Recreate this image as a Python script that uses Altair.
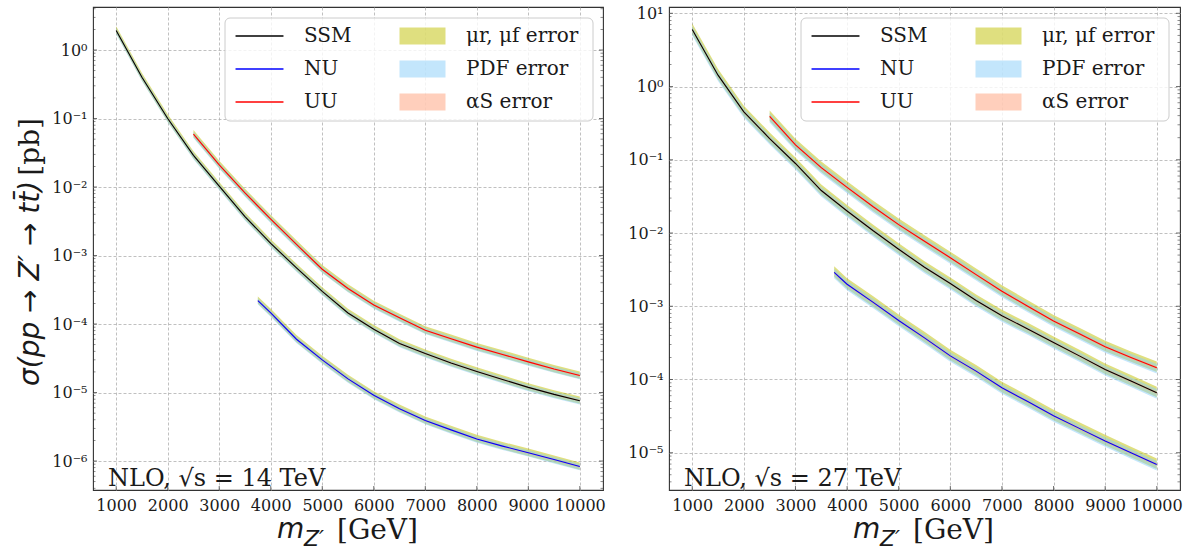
import altair as alt
import pandas as pd

# ---------------- data ----------------
mass_ssm = [1000, 1500, 2000, 2500, 3000, 3500, 4000, 4500, 5000, 5500,
            6000, 6500, 7000, 7500, 8000, 8500, 9000, 9500, 10000]
mass_uu = [2500, 3000, 3500, 4000, 4500, 5000, 5500, 6000, 6500, 7000,
           7500, 8000, 8500, 9000, 9500, 10000]
mass_nu = [3750, 4000, 4500, 5000, 5500, 6000, 6500, 7000, 7500, 8000,
           8500, 9000, 9500, 10000]

ssm_14 = [1.93, 0.40, 0.100, 0.029, 0.0103, 0.0037, 0.0015, 6.6e-4, 3.0e-4, 1.45e-4,
          8.4e-5, 5.2e-5, 3.7e-5, 2.7e-5, 2.03e-5, 1.55e-5, 1.19e-5, 9.4e-6, 7.6e-6]
uu_14 = [0.059, 0.021, 0.0082, 0.0034, 1.45e-3, 6.3e-4, 3.3e-4, 1.9e-4, 1.23e-4, 8.1e-5,
         6.1e-5, 4.6e-5, 3.6e-5, 2.8e-5, 2.2e-5, 1.77e-5]
nu_14 = [2.2e-4, 1.45e-4, 6.0e-5, 3.0e-5, 1.58e-5, 9.1e-6, 5.8e-6, 3.9e-6, 2.85e-6, 2.1e-6,
         1.65e-6, 1.32e-6, 1.05e-6, 8.3e-7]

ssm_27 = [6.0, 1.43, 0.45, 0.195, 0.089, 0.038, 0.020, 0.0108, 6.0e-3, 3.4e-3,
          2.04e-3, 1.2e-3, 7.4e-4, 4.9e-4, 3.2e-4, 2.1e-4, 1.37e-4, 9.5e-5, 6.6e-5]
uu_27 = [0.39, 0.16, 0.078, 0.042, 0.023, 0.013, 7.7e-3, 4.6e-3, 2.7e-3, 1.6e-3,
         1.0e-3, 6.3e-4, 4.2e-4, 2.8e-4, 2.0e-4, 1.45e-4]
nu_27 = [2.9e-3, 2.0e-3, 1.14e-3, 6.4e-4, 3.7e-4, 2.1e-4, 1.3e-4, 7.7e-5, 5.0e-5, 3.2e-5,
         2.15e-5, 1.45e-5, 1.0e-5, 6.9e-6]

# relative uncertainties (up, down) per error source, per collider energy
err_names = ["μr, μf error", "PDF error", "αS error"]
err_up_14 = [0.15, 0.09, 0.03]
err_dn_14 = [0.10, 0.12, 0.03]
err_up_27 = [0.21, 0.12, 0.04]
err_dn_27 = [0.13, 0.17, 0.04]

series_names = ["SSM", "NU", "UU"]
series_colors = ["#000000", "#0000ff", "#ff0000"]
err_colors = ["#bfbf00", "#87cefa", "#ffa07a"]

x_ticks = [1000, 2000, 3000, 4000, 5000, 6000, 7000, 8000, 9000, 10000]
y_ticks_14 = [1e-6, 1e-5, 1e-4, 1e-3, 1e-2, 1e-1, 1e0]
y_ticks_27 = [1e-5, 1e-4, 1e-3, 1e-2, 1e-1, 1e0, 1e1]
y_dom_14 = [10 ** -6.423, 10 ** 0.628]
y_dom_27 = [10 ** -5.509, 10 ** 1.086]
x_dom = [550, 10450]
energies = ["14", "27"]

# ---------------- tables ----------------
def build(ssm, nu, uu, up, dn):
    lines, bands = [], []
    for name, ms, vs in [("SSM", mass_ssm, ssm), ("NU", mass_nu, nu), ("UU", mass_uu, uu)]:
        for m, v in zip(ms, vs):
            lines.append({"series": name, "mass": m, "xs": v})
            for k, e in enumerate(err_names):
                bands.append({"series": name, "err": e, "k": k, "mass": m,
                              "lo": v * (1 - dn[k]), "hi": v * (1 + up[k])})
    return pd.DataFrame(lines), pd.DataFrame(bands)

lines14, bands14 = build(ssm_14, nu_14, uu_14, err_up_14, err_dn_14)
lines27, bands27 = build(ssm_27, nu_27, uu_27, err_up_27, err_dn_27)

def minor_ticks(dom):
    out = []
    for d in range(-8, 3):
        for f in range(2, 10):
            v = f * 10.0 ** d
            if dom[0] <= v <= dom[1]:
                out.append(v)
    return out

SERIF = "DejaVu Serif"
SANS = "DejaVu Sans"
TXT = "#1a1a1a"

sup_expr = ("'10' + (round(log(datum.value)/LN10) < 0 ? '\u207b' : '') + "
            "['\u2070','\u00b9','\u00b2','\u00b3','\u2074','\u2075','\u2076','\u2077','\u2078','\u2079']"
            "[abs(round(log(datum.value)/LN10))]")


def panel(lines, bands, y_ticks, y_dom, W, H, energy, first):
    xs = alt.Scale(domain=x_dom, nice=False, zero=False)
    ys = alt.Scale(type="log", domain=y_dom, nice=False)
    x_axis = alt.Axis(values=x_ticks, title=None, ticks=False, domain=False, grid=True,
                      labelPadding=7, format="d", labelFlush=False,
                      labelFont=SERIF, labelFontSize=16, labelColor=TXT,
                      gridDash=[3, 2], gridColor="#b0b0b0", gridWidth=0.8)
    y_axis = alt.Axis(values=y_ticks, title=None, ticks=False, domain=False, grid=True,
                      labelPadding=6, labelExpr=sup_expr, labelFlush=False,
                      labelFont=SERIF, labelFontSize=16, labelColor=TXT,
                      gridDash=[3, 2], gridColor="#b0b0b0", gridWidth=0.8)

    def X(f):
        return alt.X(f"{f}:Q", scale=xs, axis=x_axis)

    def Y(f):
        return alt.Y(f"{f}:Q", scale=ys, axis=y_axis, stack=None)

    fill = alt.Fill("err:N", scale=alt.Scale(domain=err_names, range=err_colors),
                    legend=alt.Legend(title=None, orient="none", legendX=319.5, legendY=19,
                                      symbolType="M-2.706,-1H2.706V1H-2.706Z", symbolSize=289,
                                      symbolOpacity=0.5, symbolStrokeWidth=0,
                                      labelFont=SERIF, labelFontSize=20, labelColor=TXT,
                                      labelOffset=33.5, rowPadding=13, padding=0))
    band_layers = [
        alt.Chart(bands[bands.k == k].reset_index(drop=True)).mark_area(opacity=0.5).encode(
            x=X("mass"), y=Y("lo"), y2=alt.Y2("hi:Q"), fill=fill, detail="series:N")
        for k in range(3)
    ]
    line_layer = alt.Chart(lines).mark_line(strokeWidth=1.1).encode(
        x=X("mass"), y=Y("xs"),
        stroke=alt.Stroke("series:N", scale=alt.Scale(domain=series_names, range=series_colors),
                          legend=alt.Legend(title=None, orient="none", legendX=156.5, legendY=19,
                                            symbolType="M-2.82,0H2.82", symbolSize=289,
                                            symbolStrokeWidth=1.5,
                                            labelFont=SERIF, labelFontSize=20, labelColor=TXT,
                                            labelOffset=34.5, rowPadding=13, padding=0)),
        order="mass:Q")

    ymaj = pd.DataFrame({"xs": y_ticks})
    ymin = pd.DataFrame({"xs": minor_ticks(y_dom)})
    xmaj = pd.DataFrame({"mass": x_ticks})
    tick_col = "#333333"
    ticks = [
        alt.Chart(ymaj).mark_tick(size=4, thickness=1, color=tick_col).encode(y=Y("xs"), x=alt.value(2)),
        alt.Chart(ymaj).mark_tick(size=4, thickness=1, color=tick_col).encode(y=Y("xs"), x=alt.value(W - 2)),
        alt.Chart(ymin).mark_tick(size=2.5, thickness=0.8, color=tick_col).encode(y=Y("xs"), x=alt.value(1.25)),
        alt.Chart(ymin).mark_tick(size=2.5, thickness=0.8, color=tick_col).encode(y=Y("xs"), x=alt.value(W - 1.25)),
        alt.Chart(xmaj).mark_tick(size=4, thickness=1, color=tick_col).encode(x=X("mass"), y=alt.value(H - 2)),
    ]

    one = pd.DataFrame({"a": [0]})
    box = alt.Chart(one).mark_rect(cornerRadius=5, fill="white", fillOpacity=0.8,
                                   stroke="#cccccc", strokeWidth=1).encode(
        x=alt.value(132), x2=alt.value(500), y=alt.value(11), y2=alt.value(114))

    texts = [
        alt.Chart(one).mark_text(text=f"NLO, \u221as = {energy} TeV", font=SERIF, fontSize=24,
                                 align="left", baseline="alphabetic", color=TXT).encode(
            x=alt.value(15), y=alt.value(479)),
        alt.Chart(one).mark_text(text="m", font=SANS, fontStyle="italic", fontSize=28,
                                 align="left", baseline="alphabetic", color=TXT).encode(
            x=alt.value(184), y=alt.value(531)),
        alt.Chart(one).mark_text(text="Z\u2032", font=SANS, fontStyle="italic", fontSize=22,
                                 align="left", baseline="alphabetic", color=TXT).encode(
            x=alt.value(211), y=alt.value(539)),
        alt.Chart(one).mark_text(text="[GeV]", font=SERIF, fontSize=28,
                                 align="left", baseline="alphabetic", color=TXT).encode(
            x=alt.value(244), y=alt.value(532)),
    ]
    if first:
        texts += [
            alt.Chart(one).mark_text(text="\u03c3(pp \u2192 Z\u2032 \u2192 tt\u0304)", font=SANS,
                                     fontStyle="italic", fontSize=28, angle=270,
                                     align="left", baseline="middle", color=TXT).encode(
                x=alt.value(-62), y=alt.value(379)),
            alt.Chart(one).mark_text(text="[pb]", font=SERIF, fontSize=28, angle=270,
                                     align="right", baseline="middle", color=TXT).encode(
                x=alt.value(-62), y=alt.value(111)),
        ]

    return alt.layer(*band_layers, line_layer, *ticks, box, *texts).properties(width=W, height=H)


left = panel(lines14, bands14, y_ticks_14, y_dom_14, 510, 483, energies[0], True)
right = panel(lines27, bands27, y_ticks_27, y_dom_27, 511, 483, energies[1], False)

chart = alt.hconcat(left, right, spacing=66, bounds="flush").resolve_scale(
    x="independent", y="independent", fill="independent", stroke="independent"
).properties(
    padding={"left": 16, "top": 4, "right": 5, "bottom": 0},
    background="white"
).configure_view(
    stroke="#333333", strokeWidth=1.1
).configure_axis(
    labelFont=SERIF, labelFontSize=16, labelColor=TXT,
    gridDash=[3, 2], gridColor="#b0b0b0", gridWidth=0.8
).configure_legend(
    labelFont=SERIF, labelFontSize=20, labelColor=TXT
)

chart.save("out.html", embed_options={"renderer": "svg", "actions": False})
